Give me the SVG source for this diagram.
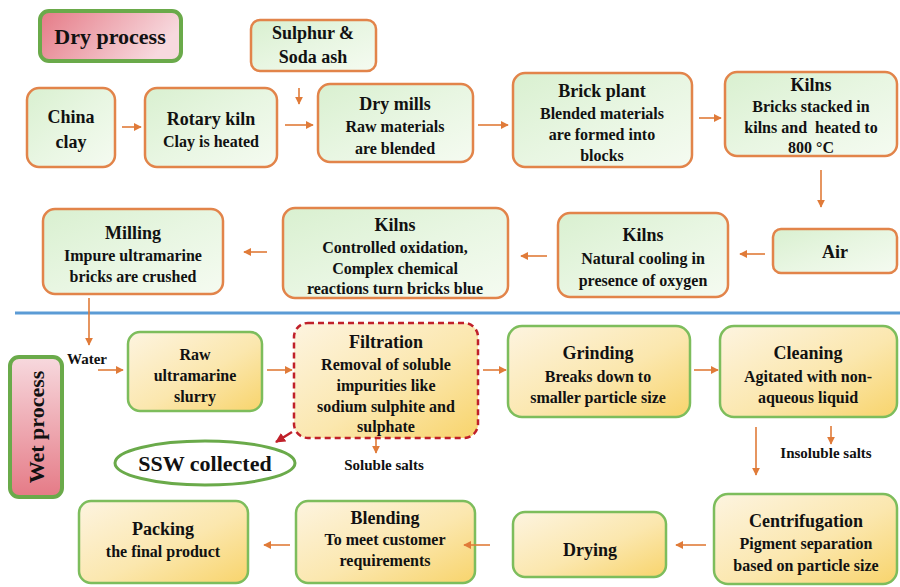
<svg xmlns="http://www.w3.org/2000/svg" width="900" height="587" viewBox="0 0 900 587">
<defs>
<linearGradient id="gGreen" x1="0" y1="0" x2="1" y2="1">
<stop offset="0" stop-color="#d9f0d0"/><stop offset="0.5" stop-color="#e8f6e2"/><stop offset="1" stop-color="#f5fbf1"/>
</linearGradient>
<linearGradient id="gWet" x1="0" y1="0" x2="1" y2="1">
<stop offset="0" stop-color="#fdf4e0"/><stop offset="0.55" stop-color="#fbe7ae"/><stop offset="1" stop-color="#f8d46c"/>
</linearGradient>
<linearGradient id="gPink" x1="0" y1="0" x2="1" y2="0.3">
<stop offset="0" stop-color="#e57a86"/><stop offset="1" stop-color="#f7d9de"/>
</linearGradient>
<linearGradient id="gPinkV" x1="0" y1="1" x2="0" y2="0">
<stop offset="0" stop-color="#e57a86"/><stop offset="1" stop-color="#f7d9de"/>
</linearGradient>
<marker id="ah" viewBox="0 0 10 10" refX="9" refY="5" markerWidth="5" markerHeight="5" orient="auto">
<path d="M0,0 L10,5 L0,10 z" fill="#e07b39"/>
</marker>
<marker id="ahr" viewBox="0 0 10 10" refX="9" refY="5" markerWidth="4" markerHeight="4" orient="auto">
<path d="M0,0 L10,5 L0,10 z" fill="#c0202a"/>
</marker>
</defs>
<style>
.dry{fill:url(#gGreen);stroke:#e2844a;stroke-width:2.5}
.wet{fill:url(#gWet);stroke:#7dbd5c;stroke-width:2.5}
.lbl{fill:url(#gPink);stroke:#6aaa4a;stroke-width:4}
text{font-weight:bold;fill:#111;text-anchor:middle}
.t{font-size:18px}
.b{font-size:16px}
.s{font-size:15px}
.big{font-size:22px}
.arr{stroke:#e07b39;stroke-width:1.6;fill:none;marker-end:url(#ah)}
</style>
<rect width="900" height="587" fill="#ffffff"/>
<line x1="15" y1="313" x2="900" y2="313" stroke="#5b9bd5" stroke-width="3"/>
<g font-family="'Liberation Serif', Tinos, 'DejaVu Serif', serif">
<g id="dry-process"><rect class="lbl" x="40" y="11" width="141" height="50" rx="9"/><text class="big" x="110" y="44">Dry process</text></g>
<g id="sulphur"><rect class="dry" x="251" y="20" width="125" height="51" rx="9"/><text class="t" x="313" y="39">Sulphur &amp;</text><text class="t" x="313" y="63">Soda ash</text></g>
<g id="china-clay"><rect class="dry" x="27" y="88" width="88" height="79" rx="12"/><text class="t" x="71" y="123">China</text><text class="t" x="71" y="148">clay</text></g>
<g id="rotary-kiln"><rect class="dry" x="145" y="88" width="132" height="79" rx="12"/><text class="t" x="211" y="125">Rotary kiln</text><text class="b" x="211" y="147">Clay is heated</text></g>
<g id="dry-mills"><rect class="dry" x="318" y="84" width="155" height="78" rx="12"/><text class="t" x="395" y="110">Dry mills</text><text class="b" x="395" y="132">Raw materials</text><text class="b" x="395" y="154">are blended</text></g>
<g id="brick-plant"><rect class="dry" x="513" y="73" width="179" height="94" rx="12"/><text class="t" x="602" y="97">Brick plant</text><text class="b" x="602" y="119">Blended materials</text><text class="b" x="602" y="140">are formed into</text><text class="b" x="602" y="161">blocks</text></g>
<g id="kilns-heat"><rect class="dry" x="725" y="72" width="172" height="84" rx="12"/><text class="t" x="811" y="91">Kilns</text><text class="b" x="811" y="112">Bricks stacked in</text><text class="b" x="811" y="133" xml:space="preserve">kilns and  heated to</text><text class="b" x="811" y="153">800 °C</text></g>
<g id="air"><rect class="dry" x="773" y="229" width="124" height="44" rx="8"/><text class="t" x="835" y="258">Air</text></g>
<g id="kilns-cool"><rect class="dry" x="558" y="213" width="170" height="84" rx="12"/><text class="t" x="643" y="241">Kilns</text><text class="b" x="643" y="264">Natural cooling in</text><text class="b" x="643" y="286">presence of oxygen</text></g>
<g id="kilns-oxid"><rect class="dry" x="283" y="208" width="225" height="90" rx="12"/><text class="t" x="395" y="231">Kilns</text><text class="b" x="395" y="253">Controlled oxidation,</text><text class="b" x="395" y="274">Complex chemical</text><text class="b" x="395" y="294">reactions turn bricks blue</text></g>
<g id="milling"><rect class="dry" x="43" y="209" width="180" height="85" rx="12"/><text class="t" x="133" y="239">Milling</text><text class="b" x="133" y="261">Impure ultramarine</text><text class="b" x="133" y="282">bricks are crushed</text></g>

<g id="wet-process"><rect x="10" y="357" width="52" height="140" rx="9" fill="url(#gPinkV)" stroke="#6aaa4a" stroke-width="4"/><text class="big" transform="translate(44,427) rotate(-90)">Wet process</text></g>
<g id="raw-slurry"><rect class="wet" x="128" y="332" width="134" height="79" rx="12"/><text class="b" x="195" y="360">Raw</text><text class="b" x="195" y="381">ultramarine</text><text class="b" x="195" y="402">slurry</text></g>
<g id="filtration"><rect x="294" y="323" width="184" height="115" rx="14" fill="url(#gWet)" stroke="#c0202a" stroke-width="2.5" stroke-dasharray="6,4"/><text class="t" x="386" y="348">Filtration</text><text class="b" x="386" y="370">Removal of soluble</text><text class="b" x="386" y="391">impurities like</text><text class="b" x="386" y="412">sodium sulphite and</text><text class="b" x="386" y="432">sulphate</text></g>
<g id="grinding"><rect class="wet" x="508" y="326" width="182" height="91" rx="14"/><text class="t" x="598" y="359">Grinding</text><text class="b" x="598" y="382">Breaks down to</text><text class="b" x="598" y="403">smaller particle size</text></g>
<g id="cleaning"><rect class="wet" x="720" y="326" width="177" height="91" rx="14"/><text class="t" x="808" y="359">Cleaning</text><text class="b" x="808" y="382">Agitated with non-</text><text class="b" x="808" y="403">aqueous liquid</text></g>
<g id="ssw"><ellipse cx="205" cy="463" rx="90" ry="22" fill="#ffffff" stroke="#6aaa4a" stroke-width="3"/><text class="big" x="205" y="471">SSW collected</text></g>
<g id="centrifugation"><rect class="wet" x="714" y="494" width="183" height="90" rx="14"/><text class="t" x="806" y="527">Centrifugation</text><text class="b" x="806" y="549">Pigment separation</text><text class="b" x="806" y="571">based on particle size</text></g>
<g id="drying"><rect class="wet" x="513" y="512" width="153" height="65" rx="12"/><text class="t" x="590" y="556">Drying</text></g>
<g id="blending"><rect class="wet" x="296" y="501" width="179" height="82" rx="12"/><text class="t" x="385" y="524">Blending</text><text class="b" x="385" y="545">To meet customer</text><text class="b" x="385" y="566">requirements</text></g>
<g id="packing"><rect class="wet" x="79" y="501" width="169" height="82" rx="12"/><text class="t" x="163" y="535">Packing</text><text class="b" x="163" y="557">the final product</text></g>

<g id="labels">
<text class="s" x="87" y="364">Water</text>
<text class="s" x="384" y="470">Soluble salts</text>
<text class="s" x="826" y="458">Insoluble salts</text>
</g>
</g>
<g id="connectors">
<path class="arr" d="M122,127 H141"/>
<path class="arr" d="M285,125 H313"/>
<path class="arr" d="M299,88 V104"/>
<path class="arr" d="M478,125 H508"/>
<path class="arr" d="M699,118 H721"/>
<path class="arr" d="M821,170 V207"/>
<path class="arr" d="M765,254 H740"/>
<path class="arr" d="M547,256 H521"/>
<path class="arr" d="M267,252 H244"/>
<path class="arr" d="M89,298 V345"/>
<path class="arr" d="M98,370 H123"/>
<path class="arr" d="M267,370 H292"/>
<path class="arr" d="M483,370 H506"/>
<path class="arr" d="M694,370 H718"/>
<path class="arr" d="M756,427 V475"/>
<path class="arr" d="M831,426 V444"/>
<path class="arr" d="M376,439 V453"/>
<path d="M292,432 L276,442" stroke="#c0202a" stroke-width="2.5" fill="none" marker-end="url(#ahr)"/>
<path class="arr" d="M706,545 H676"/>
<path class="arr" d="M490,545 H464"/>
<path class="arr" d="M290,545 H264"/>
</g>
</svg>
